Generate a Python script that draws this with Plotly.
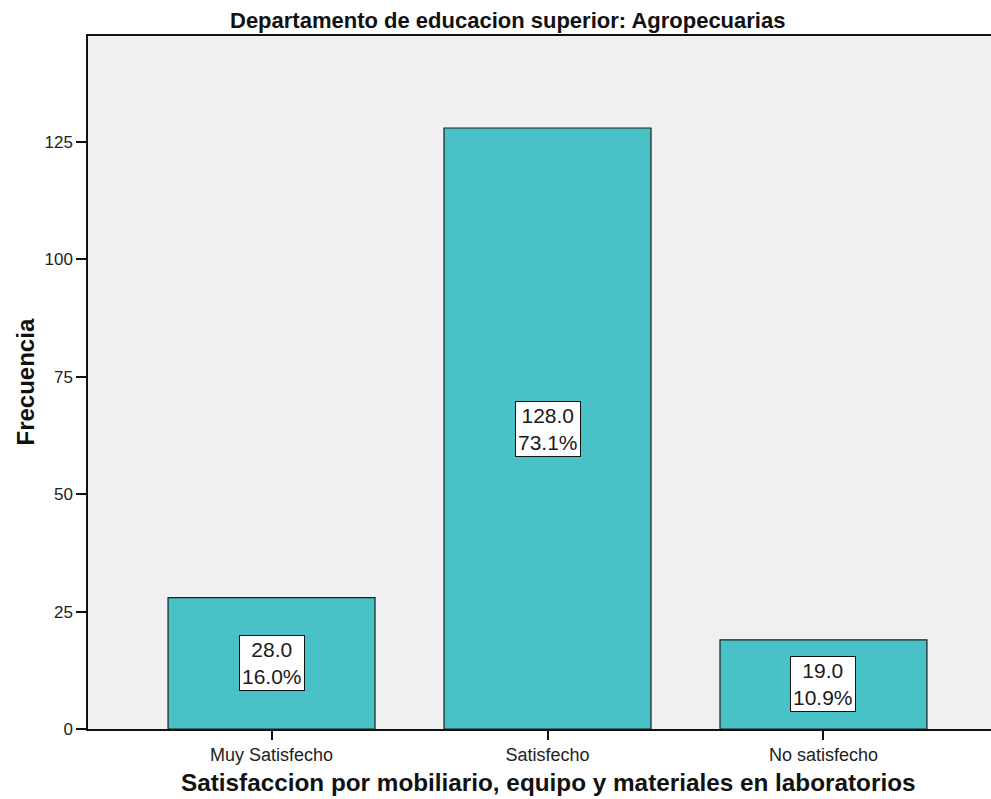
import plotly.graph_objects as go

categories = ["Muy Satisfecho", "Satisfecho", "No satisfecho"]
frecuencia = [28, 128, 19]
y_ticks = [0, 25, 50, 75, 100, 125]

total = sum(frecuencia)
pct = [v / total * 100 for v in frecuencia]

FONT = "Liberation Sans, Arial, sans-serif"

W, H = 991, 799
ML, MT, MR, MB = 88, 36, 0, 70
PW = W - ML - MR

fig = go.Figure()
fig.add_trace(go.Bar(
    x=[0, 1, 2],
    y=frecuencia,
    width=0.75,
    marker=dict(color="#48C2C6", line=dict(color="#1e1e1e", width=1.2)),
    hoverinfo="skip",
))

for i, (v, p) in enumerate(zip(frecuencia, pct)):
    fig.add_annotation(
        x=i, y=v / 2, xref="x", yref="y",
        text=f"{v:.1f}<br>{p:.1f}%",
        showarrow=False,
        font=dict(family=FONT, size=21, color="#1a1a1a"),
        bgcolor="white", bordercolor="#111111", borderwidth=1, borderpad=2,
        align="center",
    )

# chart title
fig.add_annotation(
    x=(507.5 - ML) / PW, y=1, xref="paper", yref="paper",
    xanchor="center", yanchor="middle", yshift=16,
    text="<b>Departamento de educacion superior: Agropecuarias</b>",
    showarrow=False, font=dict(family=FONT, size=22, color="#111111"),
)
# x axis title
fig.add_annotation(
    x=(548 - ML) / PW, y=0, xref="paper", yref="paper",
    xanchor="center", yanchor="middle", yshift=-53,
    text="<b>Satisfaccion por mobiliario, equipo y materiales en laboratorios</b>",
    showarrow=False, font=dict(family=FONT, size=24.3, color="#111111"),
)
# y axis title
fig.add_annotation(
    x=0, y=0.5, xref="paper", yref="paper",
    xanchor="center", yanchor="middle", xshift=-63, textangle=-90,
    text="<b>Frecuencia</b>",
    showarrow=False, font=dict(family=FONT, size=24, color="#111111"),
)

fig.update_layout(
    width=W, height=H,
    margin=dict(l=ML, r=MR, t=MT, b=MB),
    paper_bgcolor="white",
    plot_bgcolor="#F0F0F0",
    showlegend=False,
    font=dict(family=FONT, color="#222222"),
    xaxis=dict(
        range=[-0.665, 2.607],
        tickvals=[0, 1, 2], ticktext=categories,
        ticks="outside", ticklen=9, tickwidth=1.5, tickcolor="#111111",
        tickfont=dict(size=18, color="#222222"),
        showline=True, linecolor="#111111", linewidth=1.5, mirror=True,
        showgrid=False, zeroline=False,
    ),
    yaxis=dict(
        range=[0, 147.6],
        tickvals=y_ticks,
        ticks="outside", ticklen=10, tickwidth=1.5, tickcolor="#111111",
        tickfont=dict(size=17, color="#222222"),
        showline=True, linecolor="#111111", linewidth=1.5,
        showgrid=False, zeroline=False,
    ),
)

fig.write_html(
    "out.html",
    config={"displayModeBar": False},
    post_script="document.body.style.margin='0';document.body.style.overflow='hidden';",
)
